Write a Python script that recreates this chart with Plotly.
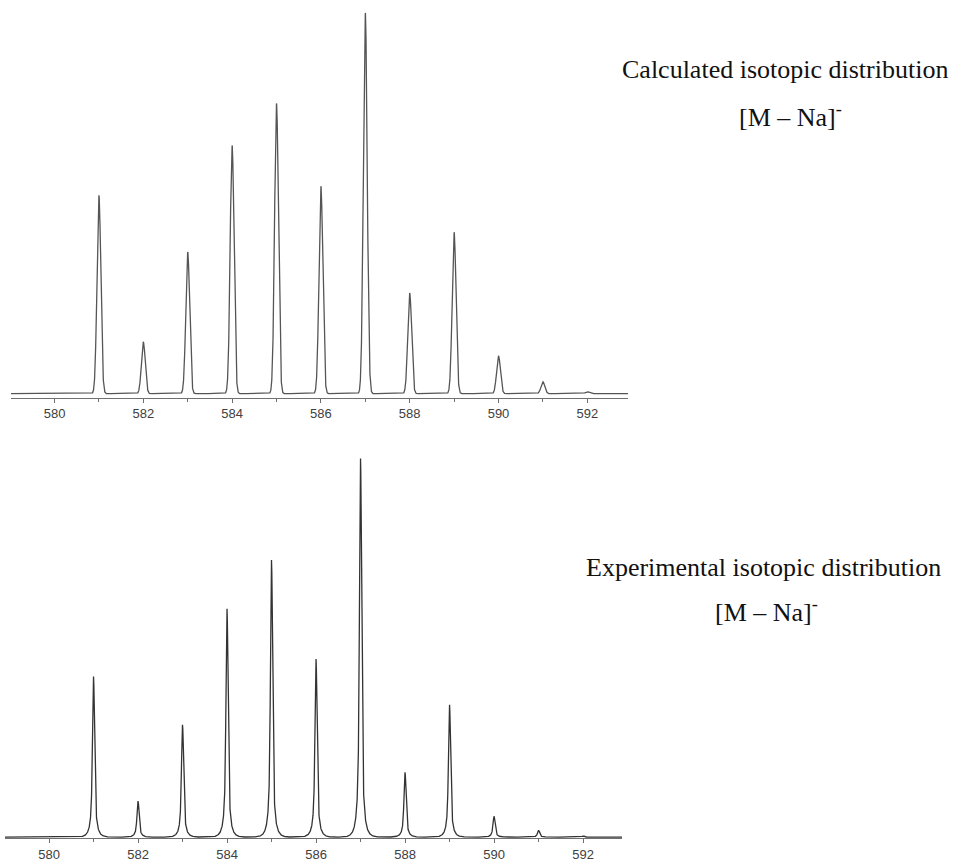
import numpy as np
import plotly.graph_objects as go

# ---- data ----
mz = [581, 582, 583, 584, 585, 586, 587, 588, 589, 590, 591, 592]
calc_intensity = [52.1, 13.6, 37.2, 65.2, 76.2, 54.5, 100.0, 26.4, 42.4, 9.9, 3.1, 0.5]
exp_intensity = [42.4, 9.5, 29.7, 60.3, 73.2, 47.1, 100.0, 17.1, 35.0, 5.5, 1.8, 0.3]
tick_vals = [580, 582, 584, 586, 588, 590, 592]
tick_text = ["580", "582", "584", "586", "588", "590", "592"]
calc_title = "Calculated isotopic distribution"
exp_title = "Experimental isotopic distribution"
ion_label = "[M \u2013 Na]<sup>-</sup>"

# ---- build peak profiles from the stick lists ----
x = np.linspace(579.0, 593.0, 8000)


def gauss_profile(centers, heights, sigma):
    y = np.zeros_like(x)
    for c, h in zip(centers, heights):
        y += h * np.exp(-0.5 * ((x - c) / sigma) ** 2)
    return y


def sharp_profile(centers, heights):
    y = np.zeros_like(x)
    for c, h in zip(centers, heights):
        d = x - c
        g = np.exp(-0.5 * (d / 0.02) ** 2)
        lor = 1.0 / (1.0 + (d / 0.04) ** 2) * np.exp(-(d / 0.25) ** 2)
        y += h * (0.5 * g + 0.5 * lor)
    return y


y_calc = gauss_profile(mz, calc_intensity, 0.043)
y_exp = sharp_profile(mz, exp_intensity)

W, H = 958, 862
fig = go.Figure()
fig.add_trace(go.Scatter(x=x, y=y_calc, mode="lines",
                         line=dict(color="#555555", width=1.3),
                         xaxis="x", yaxis="y", hoverinfo="skip"))
fig.add_trace(go.Scatter(x=x, y=y_exp, mode="lines",
                         line=dict(color="#333333", width=1.3),
                         xaxis="x2", yaxis="y2", hoverinfo="skip"))

axis_common = dict(
    showline=True, linecolor="#707070", linewidth=1,
    ticks="outside", ticklen=4, tickcolor="#707070", tickwidth=1,
    tickvals=tick_vals, ticktext=tick_text,
    tickfont=dict(family="Liberation Sans, Arial", size=13, color="#404040"),
    minor=dict(ticks="outside", dtick=1, ticklen=3, tickcolor="#707070", showgrid=False),
    showgrid=False, zeroline=False, fixedrange=True,
)

fig.update_layout(
    width=W, height=H,
    margin=dict(l=0, r=0, t=0, b=0),
    paper_bgcolor="white", plot_bgcolor="white",
    showlegend=False,
    xaxis=dict(domain=[11 / W, 628 / W], anchor="y", range=[579.02, 592.917], **axis_common),
    yaxis=dict(domain=[1 - 399 / H, 1], range=[-1.05, 103.4], visible=False, fixedrange=True),
    xaxis2=dict(domain=[5 / W, 622 / W], anchor="y2", range=[579.011, 592.876], **axis_common),
    yaxis2=dict(domain=[1 - 841 / H, 1 - 440 / H], range=[-0.26, 105.3], visible=False, fixedrange=True),
)

tfont = dict(family="Liberation Serif, Times New Roman, serif", size=26, color="#111111")


def ann(text, px, py):
    fig.add_annotation(text=text, x=px / W, y=1 - py / H, xref="paper", yref="paper",
                       xanchor="center", yanchor="middle", showarrow=False, font=tfont)


ann(calc_title, 785, 70)
ann(ion_label, 790, 116)
ann(exp_title, 763, 569)
ann(ion_label, 766, 613)

fig.write_html("out.html",
               config={"displayModeBar": False, "staticPlot": True},
               post_script="document.body.style.margin='0';document.body.style.padding='0';")
